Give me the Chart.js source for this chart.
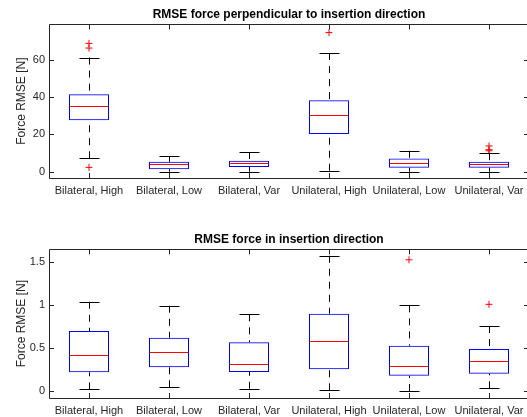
<!DOCTYPE html>
<html>
<head>
<meta charset="utf-8">
<script src="https://cdn.jsdelivr.net/npm/chart.js@4/dist/chart.umd.min.js"></script>
<style>
  html, body { margin: 0; padding: 0; background: #fff; overflow: hidden; width: 527px; height: 417px; }
  canvas { position: absolute; left: 0; display: block; }
  #top { top: 0; }
  #bottom { top: 225px; }
</style>
</head>
<body>
<canvas id="top" width="535" height="200"></canvas>
<canvas id="bottom" width="535" height="192"></canvas>
<script>
// ---------- Data ----------
const categories = ['Bilateral, High', 'Bilateral, Low', 'Bilateral, Var', 'Unilateral, High', 'Unilateral, Low', 'Unilateral, Var'];

// Top panel: RMSE force perpendicular to insertion direction
const perpLower    = [7.2, 0.0, 0.0, 0.5, 0.0, 0.0];
const perpQ1       = [27.6, 1.3, 2.5, 20.2, 2.1, 2.1];
const perpMedian   = [35.0, 3.9, 4.5, 30.3, 4.8, 3.9];
const perpQ3       = [41.5, 5.3, 5.9, 38.3, 7.0, 5.3];
const perpUpper    = [61.2, 8.4, 10.5, 63.6, 11.2, 9.9];
const perpOutliers = [[2.3, 66.3, 68.8], [], [], [74.6], [], [11.2, 11.8, 13.8]];
const perpTicks    = [0, 20, 40, 60];
const perpTickLabels = ['0', '20', '40', '60'];

// Bottom panel: RMSE force in insertion direction
const inLower    = [0.023, 0.047, 0.030, 0.012, 0.003, 0.035];
const inQ1       = [0.221, 0.279, 0.224, 0.256, 0.181, 0.205];
const inMedian   = [0.422, 0.457, 0.317, 0.588, 0.298, 0.356];
const inQ3       = [0.701, 0.623, 0.570, 0.902, 0.530, 0.492];
const inUpper    = [1.042, 0.995, 0.895, 1.577, 1.000, 0.759];
const inOutliers = [[], [], [], [], [1.53], [1.012]];
const inTicks    = [0, 0.5, 1, 1.5];
const inTickLabels = ['0', '0.5', '1', '1.5'];

// ---------- Rendering ----------
Chart.defaults.font.family = "'Liberation Sans', Arial, Helvetica, sans-serif";
const AXIS_COLOR = '#262626';

function boxPlugin(stats) {
  return {
    id: 'boxWhiskers',
    afterDatasetsDraw(chart) {
      const { ctx, scales: { x, y } } = chart;
      const meta = chart.getDatasetMeta(0);
      ctx.save();
      stats.q1.forEach((_, i) => {
        const bar = meta.data[i];
        const cx = Math.round(x.getPixelForValue(i)) + 0.5;
        const half = bar.width / 2;
        const capHalf = half / 2;
        const yl = y.getPixelForValue(stats.lower[i]);
        const y1 = y.getPixelForValue(stats.q1[i]);
        const y3 = y.getPixelForValue(stats.q3[i]);
        const yu = y.getPixelForValue(stats.upper[i]);
        const ym = y.getPixelForValue(stats.median[i]);
        // dashed whiskers
        ctx.strokeStyle = '#000';
        ctx.lineWidth = 1;
        ctx.setLineDash([7, 6]);
        ctx.beginPath();
        ctx.moveTo(cx, yu); ctx.lineTo(cx, y3);
        ctx.moveTo(cx, yl); ctx.lineTo(cx, y1);
        ctx.stroke();
        // caps
        ctx.setLineDash([]);
        ctx.beginPath();
        ctx.moveTo(cx - capHalf, Math.round(yu) + 0.5); ctx.lineTo(cx + capHalf, Math.round(yu) + 0.5);
        ctx.moveTo(cx - capHalf, Math.round(yl) + 0.5); ctx.lineTo(cx + capHalf, Math.round(yl) + 0.5);
        ctx.stroke();
        // median
        ctx.strokeStyle = '#ff0000';
        ctx.beginPath();
        ctx.moveTo(bar.x - half + 1, Math.round(ym) + 0.5);
        ctx.lineTo(bar.x + half - 1, Math.round(ym) + 0.5);
        ctx.stroke();
      });
      ctx.restore();
    }
  };
}

function framePlugin(yTicks) {
  return {
    id: 'frame',
    afterDraw(chart) {
      const { ctx, chartArea: a, scales: { x, y } } = chart;
      const L = 5;
      ctx.save();
      ctx.strokeStyle = AXIS_COLOR;
      ctx.lineWidth = 1;
      ctx.beginPath();
      ctx.rect(Math.round(a.left) + 0.5, Math.round(a.top) + 0.5,
               Math.round(a.right - a.left), Math.round(a.bottom - a.top));
      yTicks.forEach(v => {
        const py = Math.round(y.getPixelForValue(v)) + 0.5;
        ctx.moveTo(a.left, py); ctx.lineTo(a.left + L, py);
        ctx.moveTo(a.right, py); ctx.lineTo(a.right - L, py);
      });
      categories.forEach((_, i) => {
        const px = Math.round(x.getPixelForValue(i)) + 0.5;
        ctx.moveTo(px, a.bottom); ctx.lineTo(px, a.bottom - L);
        ctx.moveTo(px, a.top); ctx.lineTo(px, a.top + L);
      });
      ctx.stroke();
      ctx.restore();
    }
  };
}

function makeChart(id, title, stats, outliers, yMin, yMax, yTicks, yTickLabels, xAxisHeight) {
  const outlierPoints = [];
  outliers.forEach((arr, i) => arr.forEach(v => outlierPoints.push({ x: categories[i], y: v })));
  return new Chart(document.getElementById(id), {
    type: 'bar',
    data: {
      labels: categories,
      datasets: [
        {
          type: 'bar',
          data: stats.q1.map((v, i) => [v, stats.q3[i]]),
          backgroundColor: 'rgba(0,0,0,0)',
          borderColor: '#0000ff',
          borderWidth: 1,
          borderSkipped: false,
          barPercentage: 0.5,
          categoryPercentage: 1
        },
        {
          type: 'scatter',
          data: outlierPoints,
          pointStyle: 'cross',
          radius: 3.5,
          borderColor: '#ff0000',
          backgroundColor: '#ff0000',
          borderWidth: 1
        }
      ]
    },
    options: {
      responsive: false,
      animation: false,
      layout: { padding: { left: 0, right: 6, top: 0, bottom: 0 } },
      plugins: {
        legend: { display: false },
        tooltip: { enabled: false },
        title: {
          display: true,
          text: title,
          fullSize: false,
          color: '#000',
          font: { size: 12, weight: 'bold' },
          padding: { top: 7, bottom: 3 }
        }
      },
      scales: {
        x: {
          type: 'category',
          offset: true,
          grid: { display: false, drawTicks: false },
          border: { display: false },
          ticks: { color: AXIS_COLOR, font: { size: 11 }, padding: 6, maxRotation: 0, autoSkip: false },
          afterFit: s => { s.height = xAxisHeight; }
        },
        y: {
          type: 'linear',
          min: yMin,
          max: yMax,
          grid: { display: false, drawTicks: false },
          border: { display: false },
          ticks: {
            color: AXIS_COLOR, font: { size: 11 }, padding: 4,
            callback: (v) => { const k = yTicks.indexOf(v); return k >= 0 ? yTickLabels[k] : ''; }
          },
          afterBuildTicks: s => { s.ticks = yTicks.map(v => ({ value: v })); },
          afterFit: s => { s.width = 49; },
          title: {
            display: true,
            text: 'Force RMSE [N]',
            color: AXIS_COLOR,
            font: { size: 12 },
            padding: { top: 14, bottom: 0 }
          }
        }
      }
    },
    plugins: [boxPlugin(stats), framePlugin(yTicks)]
  });
}

makeChart('top', 'RMSE force perpendicular to insertion direction',
  { lower: perpLower, q1: perpQ1, median: perpMedian, q3: perpQ3, upper: perpUpper },
  perpOutliers, -3.4, 79, perpTicks, perpTickLabels, 22);

makeChart('bottom', 'RMSE force in insertion direction',
  { lower: inLower, q1: inQ1, median: inMedian, q3: inQ3, upper: inUpper },
  inOutliers, -0.078, 1.651, inTicks, inTickLabels, 19);
</script>
</body>
</html>
